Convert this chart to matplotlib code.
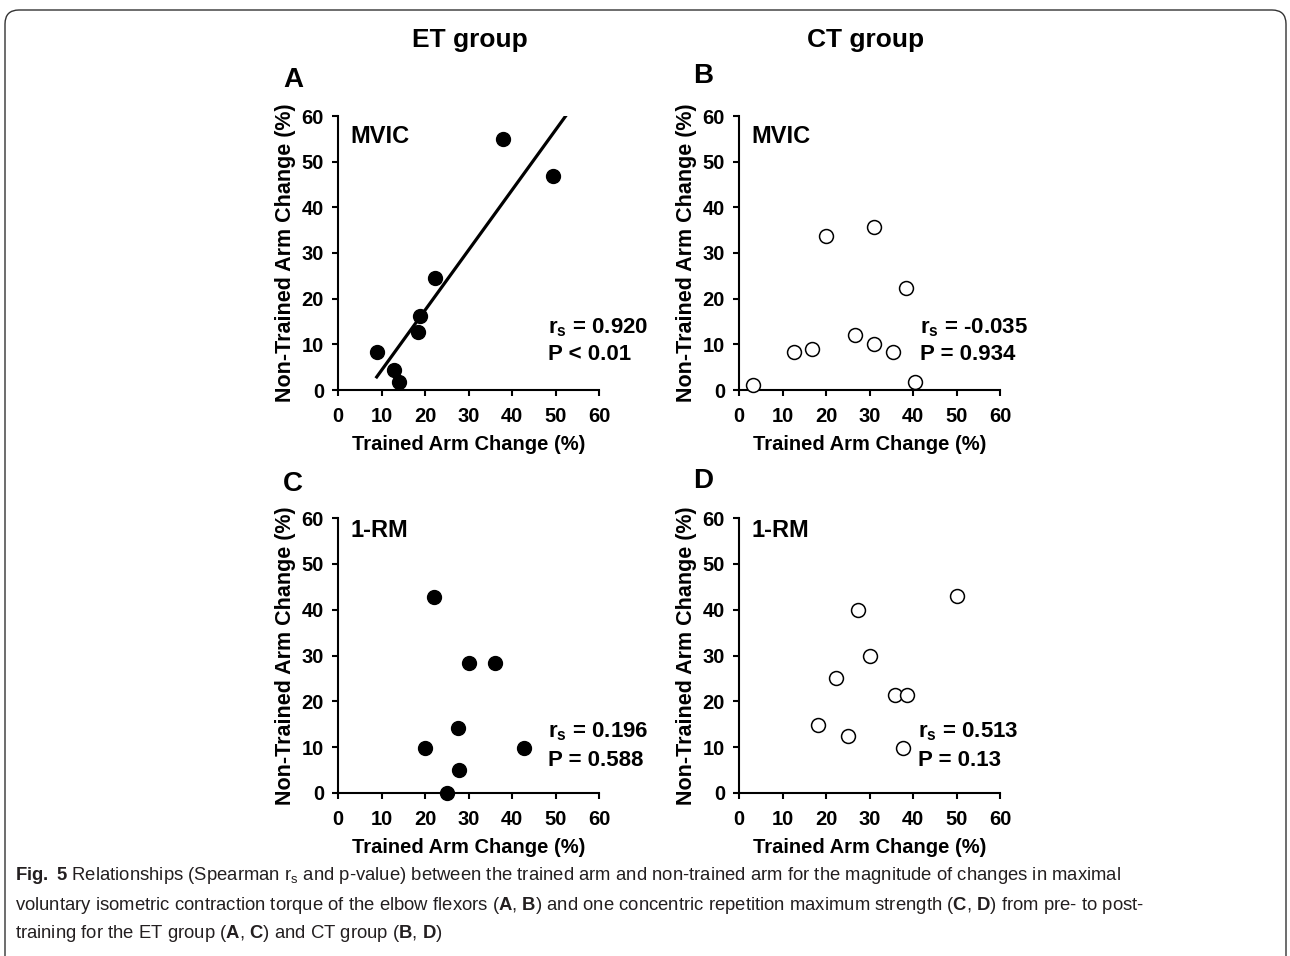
import numpy as np
import matplotlib
matplotlib.use("Agg")
from matplotlib import pyplot as plt
from matplotlib.patches import FancyBboxPatch
from matplotlib.transforms import IdentityTransform

plt.rcParams['font.family'] = ['Liberation Sans', 'DejaVu Sans']
plt.rcParams['mathtext.fontset'] = 'custom'
plt.rcParams['mathtext.rm'] = 'Liberation Sans'
plt.rcParams['mathtext.bf'] = 'Liberation Sans:bold'
plt.rcParams['mathtext.it'] = 'Liberation Sans:italic'

# panel A - ET group, MVIC
et_mvic_trained = [8.9, 12.8, 14.1, 18.4, 18.9, 22.4, 37.9, 49.4]
et_mvic_nontrained = [8.4, 4.3, 1.7, 12.7, 16.3, 24.6, 54.9, 46.8]
# panel B - CT group, MVIC
ct_mvic_trained = [3.3, 12.6, 16.7, 20.1, 26.6, 31.0, 31.1, 35.4, 38.4, 40.5]
ct_mvic_nontrained = [1.0, 8.3, 9.0, 33.8, 12.1, 35.8, 10.1, 8.4, 22.4, 1.8]
# panel C - ET group, 1-RM
et_1rm_trained = [22.1, 30.0, 36.2, 27.7, 19.9, 42.8, 27.8, 25.0]
et_1rm_nontrained = [42.8, 28.4, 28.4, 14.2, 9.9, 9.9, 5.1, 0.0]
# panel D - CT group, 1-RM
ct_1rm_trained = [50.1, 27.4, 30.1, 22.2, 35.8, 38.7, 18.2, 25.1, 37.6]
ct_1rm_nontrained = [42.9, 40.0, 30.0, 25.0, 21.3, 21.3, 14.9, 12.5, 9.9]

rs_text = ["0.920", "-0.035", "0.196", "0.513"]
p_text = ["P < 0.01", "P = 0.934", "P = 0.588", "P = 0.13"]
measure = ["MVIC", "MVIC", "1-RM", "1-RM"]
letters = ["A", "B", "C", "D"]
ticks = [0, 10, 20, 30, 40, 50, 60]

W, H = 1290, 956
fig = plt.figure(figsize=(W / 100, H / 100), dpi=100)

def px_rect(x0, x1, ytop, ybot):
    return [x0 / W, 1 - ybot / H, (x1 - x0) / W, (ybot - ytop) / H]

rects = [px_rect(338, 599, 116, 390), px_rect(739, 1000, 116, 390),
         px_rect(338, 599, 518, 793), px_rect(739, 1000, 518, 793)]
data = [(et_mvic_trained, et_mvic_nontrained, True),
        (ct_mvic_trained, ct_mvic_nontrained, False),
        (et_1rm_trained, et_1rm_nontrained, True),
        (ct_1rm_trained, ct_1rm_nontrained, False)]
stat_x = [0.805, 0.693, 0.805, 0.686]
stat_y = [(0.226, 0.128), (0.226, 0.128), (0.222, 0.12), (0.222, 0.12)]
meas_y = [0.925, 0.925, 0.953, 0.953]

for i in range(4):
    ax = fig.add_axes(rects[i])
    x, y, filled = data[i]
    if filled:
        ax.scatter(x, y, s=100, c="black", zorder=3, clip_on=False)
    else:
        ax.scatter(x, y, s=100, facecolors="white", edgecolors="black",
                   linewidths=1.1, zorder=3, clip_on=False)
    if i == 0:
        m, b = np.polyfit(x, y, 1)
        xs = np.array([min(x), (60 - b) / m])
        ax.plot(xs, m * xs + b, color="black", lw=2.3, zorder=2)
    ax.set_xlim(0, 60)
    ax.set_ylim(0, 60)
    ax.set_xticks(ticks)
    ax.set_yticks(ticks)
    for s in ["top", "right"]:
        ax.spines[s].set_visible(False)
    for s in ["left", "bottom"]:
        ax.spines[s].set_linewidth(1.5)
    ax.tick_params(direction="out", length=4, width=1.5, labelsize=14.5, pad=6)
    ax.tick_params(axis="x", pad=8)
    for lab in ax.get_xticklabels() + ax.get_yticklabels():
        lab.set_fontweight("bold")
    ax.set_xlabel("Trained Arm Change (%)", fontsize=14.5, fontweight="bold", labelpad=7)
    ax.set_ylabel("Non-Trained Arm Change (%)", fontsize=15.5, fontweight="bold", labelpad=4)
    ax.text(0.046, meas_y[i], measure[i], transform=ax.transAxes, fontsize=17,
            fontweight="bold", va="center", ha="left")
    ax.text(stat_x[i], stat_y[i][0], r"$\mathbf{r_s}$ = " + rs_text[i], transform=ax.transAxes,
            fontsize=16, fontweight="bold", va="center", ha="left")
    ax.text(stat_x[i], stat_y[i][1], p_text[i], transform=ax.transAxes,
            fontsize=16, fontweight="bold", va="center", ha="left")

fig.text(470 / W, 1 - 40 / H, "ET group", fontsize=19, fontweight="bold", ha="center", va="center")
fig.text(866 / W, 1 - 40 / H, "CT group", fontsize=19, fontweight="bold", ha="center", va="center")
let_pos = [(293, 80), (703, 76), (293, 484), (703, 481)]
for (lx, ly), t in zip(let_pos, letters):
    fig.text(lx / W, 1 - ly / H, t, fontsize=20, fontweight="bold", ha="center", va="center")

cap = [r"$\mathbf{Fig.\ 5}$ Relationships (Spearman r$_\mathregular{s}$ and p-value) between the trained arm and non-trained arm for the magnitude of changes in maximal",
       r"voluntary isometric contraction torque of the elbow flexors ($\mathbf{A}$, $\mathbf{B}$) and one concentric repetition maximum strength ($\mathbf{C}$, $\mathbf{D}$) from pre- to post-",
       r"training for the ET group ($\mathbf{A}$, $\mathbf{C}$) and CT group ($\mathbf{B}$, $\mathbf{D}$)"]
cap_y = [876, 905, 933]
for t, cy in zip(cap, cap_y):
    fig.text(15 / W, 1 - cy / H, t, fontsize=13.3, color="#231f20", ha="left", va="center")

frame = FancyBboxPatch((5, -40), 1281, 986, boxstyle="round,pad=0,rounding_size=14",
                       transform=IdentityTransform(), fill=False, edgecolor="#333333", lw=1.0)
fig.patches.append(frame)

fig.savefig("out.png", dpi=100)
